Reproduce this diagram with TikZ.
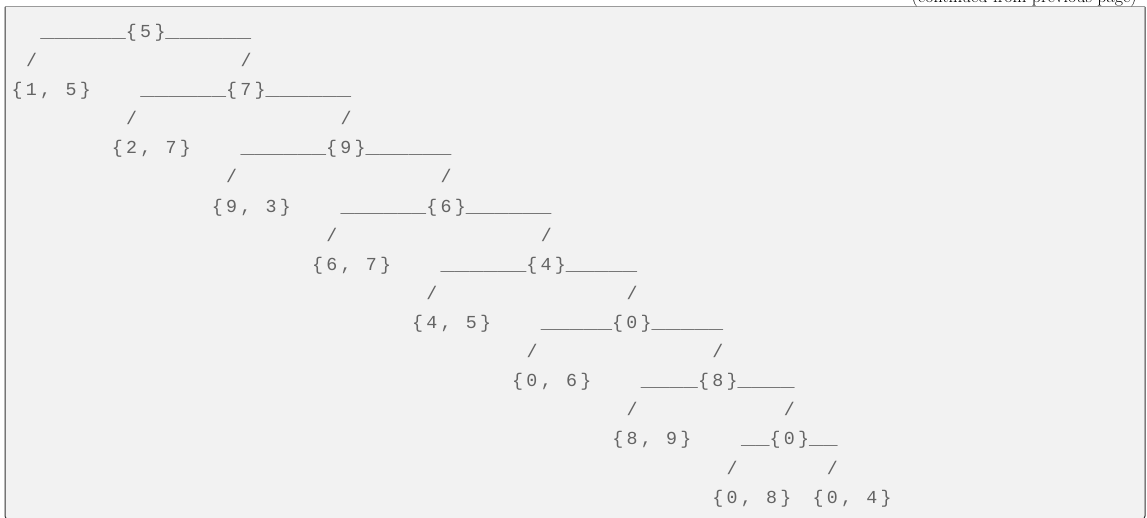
\documentclass[tikz,border=0pt]{standalone}
\usepackage{fontspec}
\newfontfamily\treefont[LetterSpace=18]{Liberation Mono}
\newfontfamily\barfont[FakeStretch=1.3]{Liberation Mono}
\definecolor{boxbg}{RGB}{242,242,242}
\definecolor{frametop}{RGB}{155,155,155}
\definecolor{frameside}{RGB}{50,50,50}
\definecolor{treegray}{RGB}{100,100,100}
\tikzset{
  treetext/.style={anchor=base west, inner sep=0pt, text=treegray,
    font=\treefont\fontsize{18.3}{22}\selectfont},
}
\newcommand{\bars}[1]{{\barfont\fontsize{18.3}{22}\selectfont#1}}
\begin{document}
\begin{tikzpicture}[x=1pt,y=-1pt]
                \useasboundingbox (0,0) rectangle (1147,518);
                \clip (0,0) rectangle (1147,518);
                % Box
                \fill[boxbg] (5,7) rectangle (1145,522);
                \draw[frameside, line width=1pt, rounded corners=4pt] (5,7) -- (5,520) -- (1145,520) -- (1145,7);
                \draw[frametop, line width=1pt] (5,7) -- (1145,7);
                % Header, cut at the top
                \node[anchor=base east, inner sep=0pt, font=\fontsize{18}{20}\selectfont] (cont) at (1137,3) {(continued from previous page)};
                % Tree, one column = one character
                \begin{scope}[shift={(11.5,37.5)}, x=14.3pt, y=-29.1pt]
                \node[treetext] (r5) at (2,0) {\bars{\_\_\_\_\_\_}\{5\}\bars{\_\_\_\_\_\_}};
                \node[treetext] (s1l) at (1,1) {/};
                \node[treetext] (s1r) at (16,1) {/};
                \node[treetext] (l15) at (0,2) {\{1, 5\}};
                \node[treetext] (r7) at (9,2) {\bars{\_\_\_\_\_\_}\{7\}\bars{\_\_\_\_\_\_}};
                \node[treetext] (s2l) at (8,3) {/};
                \node[treetext] (s2r) at (23,3) {/};
                \node[treetext] (l27) at (7,4) {\{2, 7\}};
                \node[treetext] (r9) at (16,4) {\bars{\_\_\_\_\_\_}\{9\}\bars{\_\_\_\_\_\_}};
                \node[treetext] (s3l) at (15,5) {/};
                \node[treetext] (s3r) at (30,5) {/};
                \node[treetext] (l93) at (14,6) {\{9, 3\}};
                \node[treetext] (r6) at (23,6) {\bars{\_\_\_\_\_\_}\{6\}\bars{\_\_\_\_\_\_}};
                \node[treetext] (s4l) at (22,7) {/};
                \node[treetext] (s4r) at (37,7) {/};
                \node[treetext] (l67) at (21,8) {\{6, 7\}};
                \node[treetext] (r4) at (30,8) {\bars{\_\_\_\_\_\_}\{4\}\bars{\_\_\_\_\_}};
                \node[treetext] (s5l) at (29,9) {/};
                \node[treetext] (s5r) at (43,9) {/};
                \node[treetext] (l45) at (28,10) {\{4, 5\}};
                \node[treetext] (r0a) at (37,10) {\bars{\_\_\_\_\_}\{0\}\bars{\_\_\_\_\_}};
                \node[treetext] (s6l) at (36,11) {/};
                \node[treetext] (s6r) at (49,11) {/};
                \node[treetext] (l06) at (35,12) {\{0, 6\}};
                \node[treetext] (r8) at (44,12) {\bars{\_\_\_\_}\{8\}\bars{\_\_\_\_}};
                \node[treetext] (s7l) at (43,13) {/};
                \node[treetext] (s7r) at (54,13) {/};
                \node[treetext] (l89) at (42,14) {\{8, 9\}};
                \node[treetext] (r0b) at (51,14) {\bars{\_\_}\{0\}\bars{\_\_}};
                \node[treetext] (s8l) at (50,15) {/};
                \node[treetext] (s8r) at (57,15) {/};
                \node[treetext] (l08) at (49,16) {\{0, 8\}};
                \node[treetext] (l04) at (56,16) {\{0, 4\}};
                \end{scope}
            \end{tikzpicture}
\end{document}
